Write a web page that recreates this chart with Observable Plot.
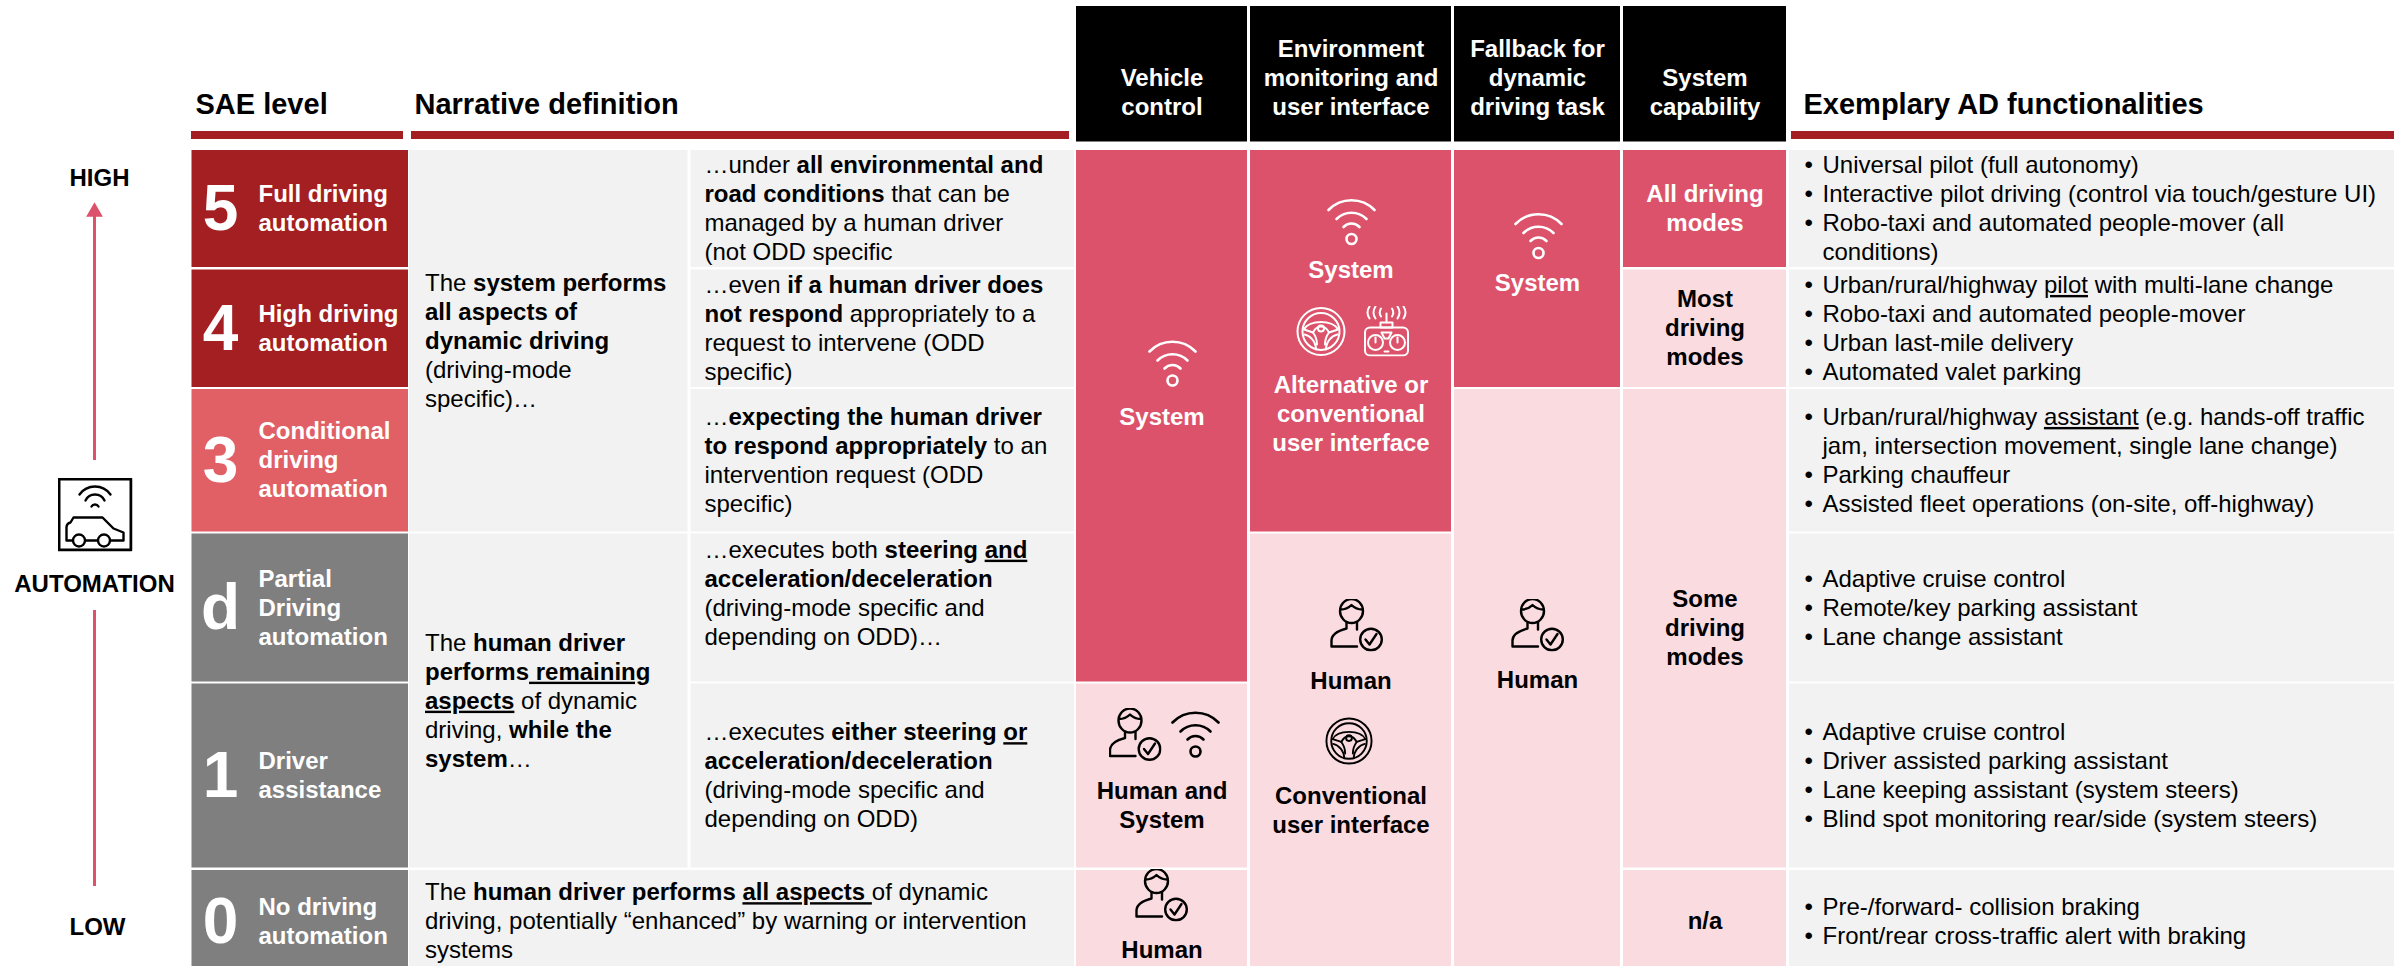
<!DOCTYPE html>
<html><head><meta charset="utf-8">
<script src="https://cdn.jsdelivr.net/npm/d3@7"></script>
<script src="https://cdn.jsdelivr.net/npm/@observablehq/plot@0.6"></script>
<style>html,body{margin:0;padding:0;background:#fff}svg{display:block}</style>
</head><body><div id="chart"></div>
<script>
// ---------- content ----------
const levels = ["5","4","3","d","1","0"];
const levelNames = [
  ["Full driving","automation"],
  ["High driving","automation"],
  ["Conditional","driving","automation"],
  ["Partial","Driving","automation"],
  ["Driver","assistance"],
  ["No driving","automation"]
];
const sectionHeaders = ["SAE level","Narrative definition","Exemplary AD functionalities"];
const roleHeaders = [
  ["Vehicle","control"],
  ["Environment","monitoring and","user interface"],
  ["Fallback for","dynamic","driving task"],
  ["System","capability"]
];
const narrativeSystem = ["The **system performs**","**all aspects of**","**dynamic driving**","(driving-mode","specific)…"];
const narrativeHuman = ["The **human driver**","**performs**__ remaining__","__aspects__ of dynamic","driving, **while the**","**system**…"];
const narrativeNone = ["The **human driver performs** __all aspects __of dynamic","driving, potentially “enhanced” by warning or intervention","systems"];
const definitions = [
  ["…under **all environmental and**","**road conditions** that can be","managed by a human driver","(not ODD specific"],
  ["…even **if a human driver does**","**not respond** appropriately to a","request to intervene (ODD","specific)"],
  ["…**expecting the human driver**","**to respond appropriately** to an","intervention request (ODD","specific)"],
  ["…executes both **steering **__and__","**acceleration/deceleration**","(driving-mode specific and","depending on ODD)…",""],
  ["…executes **either steering **__or__","**acceleration/deceleration**","(driving-mode specific and","depending on ODD)"]
];
const functionalities = [
  ["• Universal pilot (full autonomy)","• Interactive pilot driving (control via touch/gesture UI)","• Robo-taxi and automated people-mover (all","conditions)"],
  ["• Urban/rural/highway ~~pilot~~ with multi-lane change","• Robo-taxi and automated people-mover","• Urban last-mile delivery","• Automated valet parking"],
  ["• Urban/rural/highway ~~assistant~~ (e.g. hands-off traffic","jam, intersection movement, single lane change)","• Parking chauffeur","• Assisted fleet operations (on-site, off-highway)"],
  ["• Adaptive cruise control","• Remote/key parking assistant","• Lane change assistant"],
  ["• Adaptive cruise control","• Driver assisted parking assistant","• Lane keeping assistant (system steers)","• Blind spot monitoring rear/side (system steers)"],
  ["• Pre-/forward- collision braking","• Front/rear cross-traffic alert with braking"]
];
const capabilityLabels = [["All driving","modes"],["Most","driving","modes"],["Some","driving","modes"],["n/a"]];
const scaleLabels = ["HIGH","AUTOMATION","LOW"];

// ---------- layout (pixel grid of the table, used as the scales' domain) ----------
const W = 2404, H = 966;
const rowTop = [150, 269.5, 389, 533.5, 683.5, 870];
const rowBot = [267, 387, 531.5, 681.5, 867.5, 972];
const colX = {sae:[191.5,408], nar:[409,687.5], def:[690.5,1074], veh:[1076,1247], env:[1250,1451], fal:[1454,1620], cap:[1623,1786], fun:[1789,2394]};
const span = (c, a, b) => ({x1:colX[c][0], x2:colX[c][1], y1:rowTop[a], y2:rowBot[b]});
const mid = c => (colX[c][0] + colX[c][1]) / 2;
const LH = 29;
const C = {dark:"#A31F21", coral:"#E06066", grey:"#7F7F7F", light:"#F2F2F2", sys:"#DC526A", hum:"#F9DBE0", black:"#000", white:"#fff"};
const saeFill = [C.dark,C.dark,C.coral,C.grey,C.grey,C.grey];

// ---------- rectangles ----------
const cells = [
  ...levels.map((_, i) => ({...span("sae",i,i), fill:saeFill[i]})),
  {...span("nar",0,2), fill:C.light},
  {...span("nar",3,4), fill:C.light},
  {...span("nar",5,5), x2:colX.def[1], fill:C.light},
  ...definitions.map((_, i) => ({...span("def",i,i), fill:C.light})),
  ...functionalities.map((_, i) => ({...span("fun",i,i), fill:C.light})),
  {...span("veh",0,3), fill:C.sys},
  {...span("veh",4,4), fill:C.hum},
  {...span("veh",5,5), fill:C.hum},
  {...span("env",0,2), fill:C.sys},
  {...span("env",3,5), fill:C.hum},
  {...span("fal",0,1), fill:C.sys},
  {...span("fal",2,5), fill:C.hum},
  {...span("cap",0,0), fill:C.sys},
  {...span("cap",1,1), fill:C.hum},
  {...span("cap",2,4), fill:C.hum},
  {...span("cap",5,5), fill:C.hum},
  // black role headers
  ...["veh","env","fal","cap"].map(c => ({x1:colX[c][0], x2:colX[c][1], y1:6, y2:141.5, fill:C.black})),
  // red section rules
  {x1:191, x2:403, y1:131, y2:139, fill:C.dark},
  {x1:411, x2:1069, y1:131, y2:139, fill:C.dark},
  {x1:1791, x2:2394, y1:131, y2:139, fill:C.dark}
];

// ---------- texts ----------
const texts = [];
const block = (lines, x, cy, o = {}) => {
  const n = lines.length;
  lines.forEach((l, i) => {
    if (!l) return;
    const y = cy + (i - (n - 1) / 2) * LH;
    texts.push({t: o.bold ? `**${l}**` : l, x, y, anchor:o.anchor || "start", fill:o.fill || C.black, size:o.size || 24});
  });
};
const cellMid = (a, b) => (rowTop[a] + rowBot[b]) / 2;
// SAE column
levels.forEach((lv, i) => {
  block([lv], 220, cellMid(i,i) + 1, {bold:true, fill:C.white, size:64, anchor:"middle"});
  block(levelNames[i], 258, cellMid(i,i), {bold:true, fill:C.white});
});
// section headers
block([sectionHeaders[0]], 195, 104, {bold:true, size:29});
block([sectionHeaders[1]], 414, 104, {bold:true, size:29});
block([sectionHeaders[2]], 1803, 104, {bold:true, size:29});
// role headers (bottom aligned)
["veh","env","fal","cap"].forEach((c, i) => {
  const h = roleHeaders[i];
  block(h, mid(c), 107 - (h.length - 1) * LH / 2, {bold:true, fill:C.white, anchor:"middle"});
});
// narrative
block(narrativeSystem, 424.5, cellMid(0,2));
block(narrativeHuman, 424.5, cellMid(3,4));
block(narrativeNone, 424.5, cellMid(5,5));
definitions.forEach((d, i) => block(d, 704, cellMid(i,i)));
// functionalities
functionalities.forEach((f, i) => {
  const n = f.length;
  block(f.map(l => l.replace(/^• /, "")), 1822, cellMid(i,i));
  block(f.map(l => l.startsWith("• ") ? "•" : ""), 1804, cellMid(i,i));
});
// who-does-what labels
const mc = (lines, c, y, fill) => block(lines, mid(c), y, {bold:true, anchor:"middle", fill});
mc(["System"], "veh", 417, C.white);
mc(["Human and","System"], "veh", 805, C.black);
mc(["Human"], "veh", 950, C.black);
mc(["System"], "env", 270, C.white);
mc(["Alternative or","conventional","user interface"], "env", 414, C.white);
mc(["Human"], "env", 681, C.black);
mc(["Conventional","user interface"], "env", 810, C.black);
mc(["System"], "fal", 283, C.white);
mc(["Human"], "fal", 680, C.black);
mc(capabilityLabels[0], "cap", cellMid(0,0), C.white);
mc(capabilityLabels[1], "cap", cellMid(1,1), C.black);
mc(capabilityLabels[2], "cap", cellMid(2,4), C.black);
mc(capabilityLabels[3], "cap", cellMid(5,5), C.black);
// automation scale
block([scaleLabels[0]], 99, 178, {bold:true, anchor:"middle"});
block([scaleLabels[1]], 94, 584, {bold:true, anchor:"middle"});
block([scaleLabels[2]], 97, 927, {bold:true, anchor:"middle"});

// ---------- icons ----------
const uri = (vb, body) => "data:image/svg+xml;utf8," + encodeURIComponent(`<svg xmlns="http://www.w3.org/2000/svg" viewBox="${vb}" fill="none" stroke-linecap="round" stroke-linejoin="round">${body}</svg>`);
const wifi = s => uri("0 0 50 50", `<g stroke="${s}" stroke-width="2.6"><path d="M2 14 A32 32 0 0 1 48 14"/><path d="M10 23 A21 21 0 0 1 40 23"/><path d="M17 31 A11 11 0 0 1 33 31"/><circle cx="25" cy="43" r="5"/></g>`);
const human = uri("0 0 53 53", `<g stroke="#000" stroke-width="2.4"><ellipse cx="21.5" cy="12.5" rx="11.5" ry="12"/><path d="M10.5 11 Q17 11 21.5 6.5 Q26 11 32.5 11"/><path d="M16.5 24 V30 C9 32 1.5 35 1.5 42 V48 H27"/><path d="M27 24 V31"/><circle cx="41" cy="41" r="10.8"/><path d="M35.5 41 L39.5 46 L46.5 35.5"/></g>`);
const wheel = s => uri("0 0 50 50", `<g stroke="${s}" stroke-width="2"><circle cx="25" cy="25" r="23.5"/><circle cx="25" cy="25" r="18.5"/><circle cx="25" cy="22" r="3"/><path d="M8 23 C13 13 37 13 42 23 L33 26 C29 18 21 18 17 26 Z"/><path d="M8.5 28 C14 29 20 35 20 43"/><path d="M41.5 28 C36 29 30 35 30 43"/><path d="M17 26 C20 30 21 33 21 38"/><path d="M33 26 C30 30 29 33 29 38"/></g>`);
const remote = s => uri("0 0 46 51", `<g stroke="${s}" stroke-width="2"><path d="M23 8 V17"/><path d="M17.5 3 Q15 7 17.5 11"/><path d="M28.5 3 Q31 7 28.5 11"/><path d="M12 1 Q8 7 12 13"/><path d="M34 1 Q38 7 34 13"/><path d="M6 1 Q2 7 6 13"/><path d="M40 1 Q44 7 40 13"/><path d="M17 17 H29 V22 H17 Z"/><rect x="1.5" y="22" width="43" height="28" rx="5"/><circle cx="12" cy="37" r="7.5"/><circle cx="34" cy="37" r="7.5"/><path d="M12 32 V37"/><path d="M34 32 V37"/><path d="M18 27 H28 L25 33 H21 Z"/><path d="M21 46 H25"/></g>`);
const carBox = uri("0 0 75 74", `<rect x="1.5" y="1.5" width="72" height="71" stroke="#000" stroke-width="3"/><g stroke="#000" stroke-width="2.4"><path d="M22 17 A19 19 0 0 1 53 17"/><path d="M28 23 A10.5 10.5 0 0 1 47 23"/><path d="M34 29 A4 4 0 0 1 41 29"/><path d="M15 63 H9 V50 Q9 46 13 45 L16 40 H45 L56 51 L66 55 V63 H53 M40 63 H28"/><circle cx="21.5" cy="63" r="6"/><circle cx="46.5" cy="63" r="6"/></g>`);
const icons = [
  {src:carBox, cx:94.5, cy:514, w:75, h:74},
  {src:wifi("#fff"), cx:1172, cy:362, w:50, h:50},
  {src:human, cx:1134.5, cy:734, w:53, h:53},
  {src:wifi("#000"), cx:1195, cy:733, w:50, h:50},
  {src:human, cx:1161, cy:894.5, w:53, h:53},
  {src:wifi("#fff"), cx:1351, cy:220.5, w:50, h:50},
  {src:wheel("#fff"), cx:1320.5, cy:331, w:50, h:50},
  {src:remote("#fff"), cx:1386, cy:330.5, w:46, h:51},
  {src:human, cx:1356, cy:624.5, w:53, h:53},
  {src:wheel("#000"), cx:1348.5, cy:740.5, w:48, h:48},
  {src:wifi("#fff"), cx:1538, cy:234.5, w:50, h:50},
  {src:human, cx:1537, cy:624.5, w:53, h:53}
];

// ---------- plot ----------
const textMark = anchor => Plot.text(texts.filter(d => d.anchor === anchor), {
  x:"x", y:"y", text:"t", fill:"fill", fontSize:"size", textAnchor:anchor, lineAnchor:"middle"
});
const svg = Plot.plot({
  width:W, height:H, margin:0,
  x:{domain:[0,W], range:[0,W], axis:null},
  y:{domain:[0,H], range:[0,H], axis:null},
  color:{type:"identity"},
  style:{fontFamily:"'Liberation Sans', Arial, sans-serif", background:"#fff"},
  marks:[
    Plot.rect(cells, {x1:"x1", x2:"x2", y1:"y1", y2:"y2", fill:"fill"}),
    Plot.ruleX([{x:94, y1:212, y2:460},{x:94, y1:610, y2:886}], {x:"x", y1:"y1", y2:"y2", stroke:C.sys, strokeWidth:3}),
    Plot.dot([{x:94, y:211.5}], {x:"x", y:"y", symbol:"triangle", r:6.2, fill:C.sys, stroke:"none"}),
    Plot.image(icons, {x:"cx", y:"cy", width:"w", height:"h", src:"src"}),
    textMark("start"),
    textMark("middle")
  ]
});
// rich-text runs: **bold**, __bold underlined__, ~~underlined~~
const NS = "http://www.w3.org/2000/svg";
svg.querySelectorAll("text").forEach(t => {
  const s = t.textContent;
  if (!/\*\*|__|~~/.test(s)) return;
  t.textContent = "";
  t.style.whiteSpace = "pre";
  for (const part of s.split(/(\*\*.+?\*\*|__.+?__|~~.+?~~)/)) {
    if (!part) continue;
    const sp = document.createElementNS(NS, "tspan");
    const m = part.slice(0,2);
    if (m === "**" || m === "__") sp.setAttribute("font-weight","bold");
    if (m === "__" || m === "~~") sp.setAttribute("text-decoration","underline");
    sp.textContent = (m === "**" || m === "__" || m === "~~") ? part.slice(2,-2) : part;
    t.appendChild(sp);
  }
});
document.getElementById("chart").appendChild(svg);
</script></body></html>
